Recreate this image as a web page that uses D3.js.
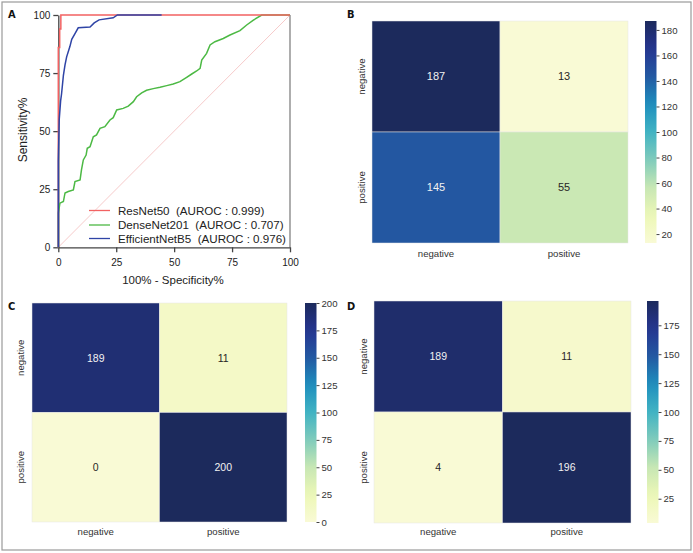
<!DOCTYPE html>
<html><head><meta charset="utf-8">
<script src="https://cdn.jsdelivr.net/npm/d3@7"></script>
<style>body{margin:0;background:#fff;} text{font-family:"Liberation Sans",Arial,sans-serif;}</style>
</head><body>
<svg id="c" width="693" height="553"></svg>
<script>
// ---------- DATA ----------
const rocTicks = [0, 25, 50, 75, 100];
const resnetFPR = [0, 0, 0.6, 0.6, 1.1, 1.1, 100];
const resnetTPR = [0, 86, 86, 94, 94, 100, 100];
const denseFPR = [0, 0, 0.7, 2.2, 2.9, 4.3, 6.5, 7.2, 9.4, 10, 10.8, 12, 12.5, 13.7, 15.1, 16.5, 18, 20.1, 22.3, 23.7, 25.2, 28, 30.2, 32.4, 33.8, 36, 38.1, 41, 43.9, 46.8, 49.6, 52.5, 55.4, 57.6, 59.7, 61.2, 61.9, 64, 65.5, 67.6, 71.2, 74.1, 78.4, 81.3, 84.2, 87.8, 100];
const denseTPR = [0, 14.7, 19, 19.7, 23.4, 24, 24.7, 28.3, 29, 33.3, 37.6, 39.7, 42.6, 43.3, 47.6, 48.4, 51.2, 51.9, 54.8, 55.8, 59.1, 59.8, 60.8, 62.7, 64.8, 66.5, 67.6, 68.3, 68.9, 69.6, 70.3, 71.3, 73.2, 74.6, 75.9, 77, 80.6, 83.5, 87.1, 88.5, 89.9, 91.4, 93.3, 95.7, 97.8, 100, 100];
const effFPR = [0, 0, 0.4, 1.0, 1.4, 2.2, 2.9, 3.6, 5.0, 5.8, 7.2, 8.6, 13.7, 15.5, 17.6, 23.7, 25.5, 44.6];
const effTPR = [0, 37, 55, 63, 66, 74, 78.5, 82, 86.4, 89.5, 92, 94.5, 94.8, 96.6, 97.9, 98.8, 100, 100];
const modelNames = ["ResNet50", "DenseNet201", "EfficientNetB5"];
const modelAUROC = ["0.999", "0.707", "0.976"];

const cmLabels = ["negative", "positive"];
const cmB = [[187, 13], [145, 55]];
const cmC = [[189, 11], [0, 200]];
const cmD = [[189, 11], [4, 196]];
const cbTicksB = [20, 40, 60, 80, 100, 120, 140, 160, 180];
const cbTicksC = [0, 25, 50, 75, 100, 125, 150, 175, 200];
const cbTicksD = [25, 50, 75, 100, 125, 150, 175];
const ylgnbu = ["#f9fad5", "#edf7b6", "#c7e7b4", "#7fcbbb", "#41b3c3", "#1e8fbe", "#2359a2", "#263590", "#1c2a5c"];

// ---------- DRAW ----------
const svg = d3.select("#c");
svg.append("rect").attr("x", 2).attr("y", 2).attr("width", 689).attr("height", 548)
  .attr("fill", "#fff").attr("stroke", "#9a9a9a").attr("stroke-width", 1.2);

function panelLabel(t, x, y) {
  svg.append("text").text(t).attr("x", x).attr("y", y)
    .style("font-family", "'DejaVu Sans Condensed','DejaVu Sans',sans-serif")
    .style("font-weight", "bold").style("font-size", "11px").attr("fill", "#111");
}

// ROC panel A
const xs = d3.scaleLinear().domain([0, 100]).range([58.3, 290]);
const ys = d3.scaleLinear().domain([0, 100]).range([247.3, 15]);
const gA = svg.append("g");
gA.append("line").attr("x1", xs(0)).attr("y1", ys(0)).attr("x2", xs(100)).attr("y2", ys(100))
  .attr("stroke", "#f6caca").attr("stroke-width", 1);
gA.append("line").attr("x1", xs(100)).attr("y1", ys(0)).attr("x2", xs(100)).attr("y2", ys(100))
  .attr("stroke", "#777").attr("stroke-width", 1.2);
const ax = gA.append("g").attr("transform", `translate(0,${ys(0)})`)
  .call(d3.axisBottom(xs).tickValues(rocTicks).tickSize(5).tickSizeOuter(0));
const ay = gA.append("g").attr("transform", `translate(${xs(0)},0)`)
  .call(d3.axisLeft(ys).tickValues(rocTicks).tickSize(5).tickSizeOuter(0));
[ax, ay].forEach(a => {
  a.selectAll("path,line").attr("stroke", "#444").attr("stroke-width", 1.3);
  a.selectAll("text").style("font-size", "10px").attr("fill", "#222");
});
ax.selectAll("text").attr("dy", "1.05em");
ay.selectAll("text").attr("x", -8);

const lineGen = d3.line().x(d => xs(d[0])).y(d => ys(d[1]));
const series = [
  {fx: denseFPR, ty: denseTPR, color: "#4cb944"},
  {fx: resnetFPR, ty: resnetTPR, color: "#f26262"},
  {fx: effFPR, ty: effTPR, color: "#2f44a6"}
];
series.forEach(s => {
  gA.append("path").datum(s.fx.map((v, i) => [v, s.ty[i]]))
    .attr("d", lineGen).attr("fill", "none").attr("stroke", s.color).attr("stroke-width", 1.5);
});
const legColors = ["#f26262", "#4cb944", "#2f44a6"];
const legY = [210.5, 225, 238.5];
modelNames.forEach((n, i) => {
  gA.append("line").attr("x1", 89).attr("x2", 110).attr("y1", legY[i]).attr("y2", legY[i])
    .attr("stroke", legColors[i]).attr("stroke-width", 1.3);
  gA.append("text").attr("x", 118).attr("y", legY[i] + 4.3)
    .text(`${n}  (AUROC : ${modelAUROC[i]})`).style("font-size", "11.6px").attr("fill", "#222")
    .style("white-space", "pre");
});
gA.append("text").attr("x", 173).attr("y", 284).attr("text-anchor", "middle")
  .text("100% - Specificity%").style("font-size", "11.5px").attr("fill", "#222");
gA.append("text").attr("transform", "translate(27,130) rotate(-90)").attr("text-anchor", "middle")
  .text("Sensitivity%").style("font-size", "12px").attr("fill", "#222");
panelLabel("A", 8, 18);

// Heatmaps
let gradId = 0;
const interp = d3.piecewise(d3.interpolateRgb, ylgnbu);
function heatmap(data, x0, y0, w, h, cbx, ticks, rowLabelX, colLabelY, annotSize) {
  const flat = data.flat();
  const vmin = d3.min(flat), vmax = d3.max(flat);
  const color = d3.scaleSequential(interp).domain([vmin, vmax]);
  const bx = d3.scaleBand().domain(cmLabels).range([x0, x0 + w]);
  const by = d3.scaleBand().domain(cmLabels).range([y0, y0 + h]);
  const g = svg.append("g");
  data.forEach((row, r) => row.forEach((v, c) => {
    g.append("rect").attr("x", bx(cmLabels[c])).attr("y", by(cmLabels[r]))
      .attr("width", bx.bandwidth()).attr("height", by.bandwidth())
      .attr("fill", color(v)).attr("stroke", "#e6e6e6").attr("stroke-width", 0.5);
    const rgb = d3.rgb(color(v));
    const lum = (0.299 * rgb.r + 0.587 * rgb.g + 0.114 * rgb.b) / 255;
    g.append("text").attr("x", bx(cmLabels[c]) + bx.bandwidth() / 2)
      .attr("y", by(cmLabels[r]) + by.bandwidth() / 2).attr("dy", "0.36em")
      .attr("text-anchor", "middle").text(v).style("font-size", annotSize + "px")
      .attr("fill", lum < 0.45 ? "#f2f2f2" : "#262626");
  }));
  cmLabels.forEach(l => {
    g.append("text").attr("x", bx(l) + bx.bandwidth() / 2).attr("y", colLabelY)
      .attr("text-anchor", "middle").text(l).style("font-size", "9.6px").attr("fill", "#333");
    g.append("text").attr("transform", `translate(${rowLabelX},${by(l) + by.bandwidth() / 2}) rotate(-90)`)
      .attr("text-anchor", "middle").text(l).style("font-size", "9.6px").attr("fill", "#333");
  });
  const id = "grad" + (gradId++);
  const grad = svg.append("defs").append("linearGradient").attr("id", id)
    .attr("x1", 0).attr("y1", 1).attr("x2", 0).attr("y2", 0);
  d3.range(0, 1.0001, 0.05).forEach(t => {
    grad.append("stop").attr("offset", t).attr("stop-color", color(vmin + t * (vmax - vmin)));
  });
  g.append("rect").attr("x", cbx).attr("y", y0).attr("width", 11.5).attr("height", h).attr("fill", `url(#${id})`);
  const cy = d3.scaleLinear().domain([vmin, vmax]).range([y0 + h, y0]);
  const ca = g.append("g").attr("transform", `translate(${cbx + 11.5},0)`)
    .call(d3.axisRight(cy).tickValues(ticks).tickSize(3).tickSizeOuter(0));
  ca.select(".domain").remove();
  ca.selectAll("line").attr("stroke", "#444");
  ca.selectAll("text").style("font-size", "9.6px").attr("fill", "#333").attr("x", 5);
}
heatmap(cmB, 372, 21, 256, 222, 645, cbTicksB, 365, 257, 11);
heatmap(cmC, 32, 303, 255, 219, 305, cbTicksC, 24, 535, 10.5);
heatmap(cmD, 374, 301, 257, 222, 647, cbTicksD, 367, 535, 10.5);
panelLabel("B", 347, 18);
panelLabel("C", 8, 310);
panelLabel("D", 347, 310);
</script>
</body></html>
